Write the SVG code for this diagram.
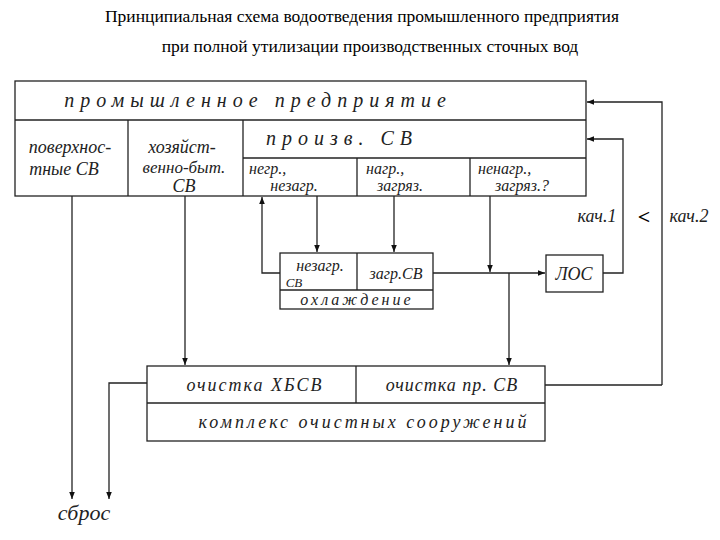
<svg xmlns="http://www.w3.org/2000/svg" width="720" height="540" viewBox="0 0 720 540">
<defs>
<style>
.ln{stroke:#222;stroke-width:1.3;fill:none}
.bx{stroke:#222;stroke-width:1.3;fill:none}
.t{font-family:"Liberation Serif",serif;font-size:17.5px;fill:#000;text-anchor:middle}
.h{font-family:"Liberation Serif",serif;font-style:italic;font-size:18px;fill:#222;text-anchor:middle}
.s{font-size:16px}
.st{text-anchor:start}
.hb{font-family:"Liberation Serif",serif;font-style:italic;font-size:20px;fill:#222;text-anchor:middle;letter-spacing:6px}
</style>
<marker id="ar" viewBox="0 0 10 10" refX="10" refY="5" markerWidth="7" markerHeight="11" orient="auto" markerUnits="userSpaceOnUse">
<path d="M0,1 L10,5 L0,9 Z" fill="#111"/>
</marker>
</defs>
<rect width="720" height="540" fill="#fff"/>
<g id="title">
<text class="t" x="362" y="22">Принципиальная схема водоотведения промышленного предприятия</text>
<text class="t" x="370" y="52">при полной утилизации производственных сточных вод</text>
</g>
<g id="enterprise">
<rect class="bx" x="15" y="81" width="571" height="115"/>
<line class="ln" x1="15" y1="120" x2="586" y2="120"/>
<line class="ln" x1="128" y1="120" x2="128" y2="196"/>
<line class="ln" x1="243" y1="120" x2="243" y2="196"/>
<line class="ln" x1="243" y1="158" x2="586" y2="158"/>
<line class="ln" x1="357" y1="158" x2="357" y2="196"/>
<line class="ln" x1="470" y1="158" x2="470" y2="196"/>
<text class="hb" x="258" y="107">промышленное    предприятие</text>
<text class="h" x="70" y="153">поверхнос-</text>
<text class="h" x="64" y="175">тные СВ</text>
<text class="h" x="182" y="153">хозяйст-</text>
<text class="h" x="184" y="173" style="font-size:17px">венно-быт.</text>
<text class="h" x="184" y="192">СВ</text>
<text class="hb" x="342" y="145">произв.  СВ</text>
<text class="h s st" x="249" y="174">негр.,</text>
<text class="h s" x="294" y="191">незагр.</text>
<text class="h s st" x="366" y="174">нагр.,</text>
<text class="h s" x="400" y="191">загряз.</text>
<text class="h s st" x="478" y="174">ненагр.,</text>
<text class="h s" x="522" y="191">загряз.?</text>
</g>
<g id="cooling">
<rect class="bx" x="280" y="253" width="153" height="56"/>
<line class="ln" x1="280" y1="290" x2="433" y2="290"/>
<line class="ln" x1="357" y1="253" x2="357" y2="290"/>
<text class="h s" x="320" y="271">незагр.</text>
<text class="h" x="294" y="287" style="font-size:13px">СВ</text>
<text class="h s" x="396" y="279">загр.СВ</text>
<text class="h s" x="357" y="305" style="letter-spacing:3px">охлаждение</text>
</g>
<g id="los">
<rect class="bx" x="546" y="255" width="57" height="37"/>
<text class="h" x="574" y="280">ЛОС</text>
</g>
<g id="treatment">
<rect class="bx" x="147" y="366" width="398" height="75"/>
<line class="ln" x1="147" y1="403" x2="545" y2="403"/>
<line class="ln" x1="356" y1="366" x2="356" y2="403"/>
<text class="h" x="255" y="391" style="letter-spacing:2px">очистка ХБСВ</text>
<text class="h" x="452" y="391" style="letter-spacing:1px">очистка пр. СВ</text>
<text class="h" x="364" y="428" style="letter-spacing:3px">комплекс очистных сооружений</text>
</g>
<g id="labels">
<text class="h" x="597" y="222">кач.1</text>
<text class="t" x="644" y="224" style="font-size:22px;font-weight:bold">&lt;</text>
<text class="h" x="689" y="222">кач.2</text>
<text class="h" x="84" y="520" style="font-size:22px">сброс</text>
</g>
<g id="connectors">
<path class="ln" d="M662,385 L662,102 L587,102" marker-end="url(#ar)"/>
<path class="ln" d="M545,385 L662,385"/>
<path class="ln" d="M603,273 L623,273 L623,139 L587,139" marker-end="url(#ar)"/>
<path class="ln" d="M317,196 L317,252" marker-end="url(#ar)"/>
<path class="ln" d="M394,196 L394,252" marker-end="url(#ar)"/>
<path class="ln" d="M280,273 L262,273 L262,197" marker-end="url(#ar)"/>
<path class="ln" d="M433,273 L545,273" marker-end="url(#ar)"/>
<path class="ln" d="M490,196 L490,272" marker-end="url(#ar)"/>
<path class="ln" d="M509,273 L509,365" marker-end="url(#ar)"/>
<path class="ln" d="M185,196 L185,365" marker-end="url(#ar)"/>
<path class="ln" d="M72,196 L72,499" marker-end="url(#ar)"/>
<path class="ln" d="M147,383 L109,383 L109,499" marker-end="url(#ar)"/>
</g>
</svg>
